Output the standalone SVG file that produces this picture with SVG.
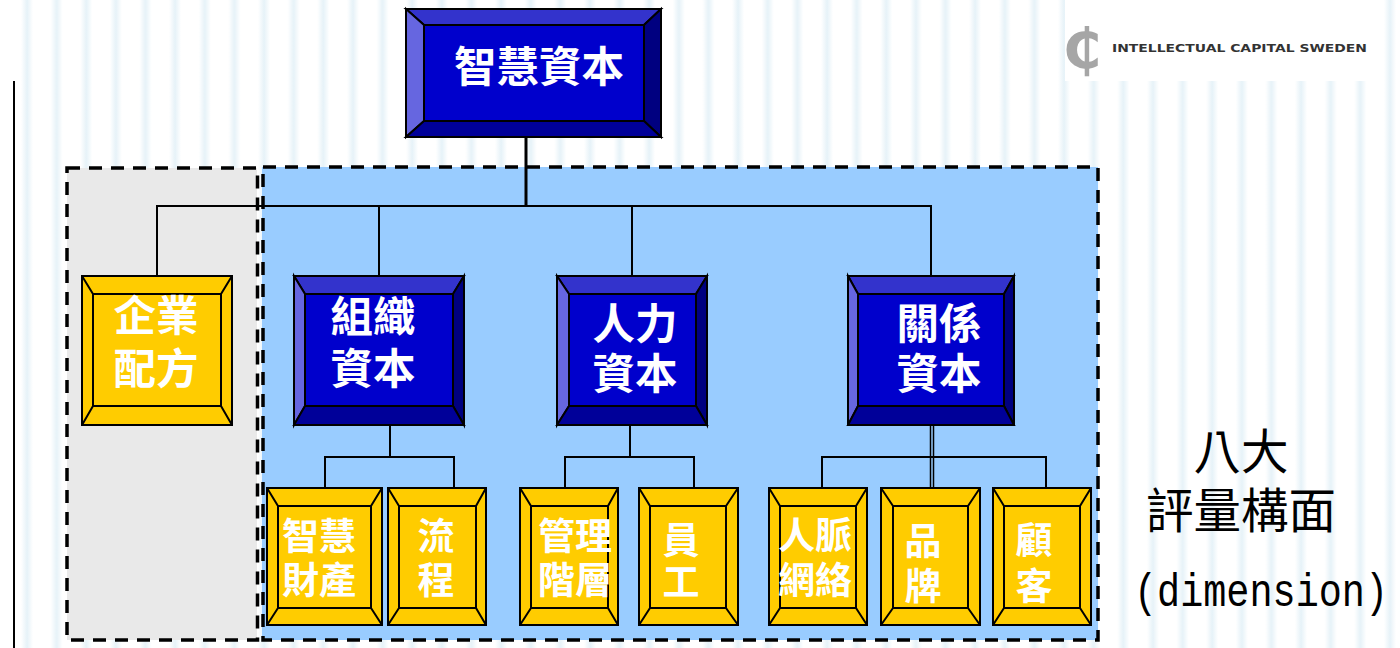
<svg xmlns="http://www.w3.org/2000/svg" width="1400" height="648" viewBox="0 0 1400 648">
<style>
.o{fill:none;stroke:#000;stroke-width:2}
.c{fill:none;stroke:#000;stroke-width:2}
.b0{fill:#0000CC}.bt{fill:#3333CC}.bl{fill:#6666E0}.br{fill:#000080}.bb{fill:#000099}
.y0{fill:#FFCC00}
.e{stroke:#000;stroke-width:2;stroke-linejoin:miter}
.t{font-family:"Noto Sans CJK TC","Noto Sans CJK SC",sans-serif;font-weight:700;fill:#fff;text-anchor:middle}
.l{font-size:42.500px}.m{font-size:37px}
.k{font-family:"Noto Sans CJK TC","Noto Sans CJK SC",sans-serif;font-size:47.500px;fill:#000;text-anchor:middle}
.d{fill:none;stroke:#000;stroke-width:3.500;stroke-dasharray:13 9}
</style>
<defs>
<linearGradient id="sg" x1="0" x2="1" y1="0" y2="0">
<stop offset="0" stop-color="#fff"/><stop offset="0.5" stop-color="#E6F2F8"/><stop offset="1" stop-color="#fff"/>
</linearGradient>
<pattern id="st" x="21" y="0" width="29.630" height="648" patternUnits="userSpaceOnUse">
<rect x="0" y="0" width="12" height="648" fill="url(#sg)"/>
</pattern>
</defs>
<g id="background">
<rect width="1400" height="648" fill="#fff"/>
<rect x="14" width="1386" height="648" fill="url(#st)"/>
<rect x="1065" y="0" width="302" height="81" fill="#fff"/>
<path d="M14 81V648" stroke="#000" stroke-width="2" fill="none"/>
</g>
<g id="logo">
<text x="1082" y="68" font-family="DejaVu Sans" font-weight="700" font-size="56" fill="#A6A6A6" text-anchor="middle">₵</text>
<text x="1112" y="52" font-family="DejaVu Sans" font-weight="700" font-size="10.500" fill="#333" textLength="255" lengthAdjust="spacingAndGlyphs">INTELLECTUAL CAPITAL SWEDEN</text>
</g>
<g id="regions">
<rect x="67" y="168" width="190" height="472" fill="#E9E9E9"/>
<rect x="262" y="167" width="836" height="473" fill="#99CCFF"/>
<rect class="d" x="67" y="168" width="190.500" height="472"/>
<rect class="d" x="263" y="167" width="835" height="473"/>
</g>
<g id="connectors">
<path class="c" style="stroke-width:3" d="M526 137V206"/>
<path class="c" d="M157 275V206H931V275M379 206V275M632 206V275"/>
<path class="c" d="M390 425V457M325 488V457H454V488"/>
<path class="c" d="M630 425V457M565 488V457H694V488"/>
<path class="c" style="stroke-width:1.500" d="M930.500 425V488M933.500 425V488"/>
<path class="c" d="M822 488V457H1046V488"/>
</g>
<g id="n-top">
<rect class="b0 e" x="406" y="9" width="255" height="128"/>
<polygon class="bt e" points="406,9 661,9 644,25 424,25"/>
<polygon class="bl e" points="406,9 424,25 424,121 406,137"/>
<polygon class="br e" points="661,9 644,25 644,121 661,137"/>
<polygon class="bb e" points="406,137 424,121 644,121 661,137"/>
<text class="t l" x="539" y="82">智慧資本</text>
</g>
<g id="n-recipe">
<rect class="y0 e" x="82" y="276" width="150" height="149"/>
<path class="o" d="M93 294H221V406H93ZM82 276L93 294M232 276L221 294M82 425L93 406M232 425L221 406"/>
<text class="t l" x="156" y="331">企業</text>
<text class="t l" x="156" y="384">配方</text>
</g>
<g id="n-org">
<rect class="b0 e" x="294" y="276" width="170" height="149"/>
<polygon class="bt e" points="294,276 464,276 453,294 305,294"/>
<polygon class="bl e" points="294,276 305,294 305,406 294,425"/>
<polygon class="br e" points="464,276 453,294 453,406 464,425"/>
<polygon class="bb e" points="294,425 305,406 453,406 464,425"/>
<text class="t l" x="373" y="332">組織</text>
<text class="t l" x="373" y="384">資本</text>
</g>
<g id="n-human">
<rect class="b0 e" x="557" y="276" width="150" height="149"/>
<polygon class="bt e" points="557,276 707,276 696,294 569,294"/>
<polygon class="bl e" points="557,276 569,294 569,406 557,425"/>
<polygon class="br e" points="707,276 696,294 696,406 707,425"/>
<polygon class="bb e" points="557,425 569,406 696,406 707,425"/>
<text class="t l" x="635" y="339">人力</text>
<text class="t l" x="635" y="389">資本</text>
</g>
<g id="n-relation">
<rect class="b0 e" x="848" y="276" width="166" height="149"/>
<polygon class="bt e" points="848,276 1014,276 1004,294 858,294"/>
<polygon class="bl e" points="848,276 858,294 858,406 848,425"/>
<polygon class="br e" points="1014,276 1004,294 1004,406 1014,425"/>
<polygon class="bb e" points="848,425 858,406 1004,406 1014,425"/>
<text class="t l" x="939" y="339">關係</text>
<text class="t l" x="939" y="389">資本</text>
</g>
<g id="n-ip">
<rect class="y0 e" x="267" y="488" width="115" height="137"/>
<path class="o" d="M278 506H371V608H278ZM267 488L278 506M382 488L371 506M267 625L278 608M382 625L371 608"/>
<text class="t m" x="319" y="550">智慧</text>
<text class="t m" x="319" y="594">財產</text>
</g>
<g id="n-process">
<rect class="y0 e" x="388" y="488" width="98" height="137"/>
<path class="o" d="M399 506H476V608H399ZM388 488L399 506M486 488L476 506M388 625L399 608M486 625L476 608"/>
<text class="t m" x="436" y="550">流</text>
<text class="t m" x="436" y="594">程</text>
</g>
<g id="n-mgmt">
<rect class="y0 e" x="520" y="488" width="98" height="137"/>
<path class="o" d="M531 506H608V608H531ZM520 488L531 506M618 488L608 506M520 625L531 608M618 625L608 608"/>
<text class="t m" x="575" y="550">管理</text>
<text class="t m" x="575" y="594">階層</text>
</g>
<g id="n-staff">
<rect class="y0 e" x="639" y="488" width="99" height="137"/>
<path class="o" d="M650 506H726V608H650ZM639 488L650 506M738 488L726 506M639 625L650 608M738 625L726 608"/>
<text class="t m" x="681" y="554">員</text>
<text class="t m" x="681" y="596">工</text>
</g>
<g id="n-network">
<rect class="y0 e" x="769" y="488" width="98" height="137"/>
<path class="o" d="M780 506H856V608H780ZM769 488L780 506M867 488L856 506M769 625L780 608M867 625L856 608"/>
<text class="t m" x="815" y="549">人脈</text>
<text class="t m" x="815" y="594">網絡</text>
</g>
<g id="n-brand">
<rect class="y0 e" x="881" y="488" width="99" height="137"/>
<path class="o" d="M893 506H968V608H893ZM881 488L893 506M980 488L968 506M881 625L893 608M980 625L968 608"/>
<text class="t m" x="923" y="555">品</text>
<text class="t m" x="923" y="600">牌</text>
</g>
<g id="n-customer">
<rect class="y0 e" x="993" y="488" width="98" height="137"/>
<path class="o" d="M1004 506H1080V608H1004ZM993 488L1004 506M1091 488L1080 506M993 625L1004 608M1091 625L1080 608"/>
<text class="t m" x="1034" y="554">顧</text>
<text class="t m" x="1034" y="600">客</text>
</g>
<g id="caption">
<text class="k" x="1241" y="469">八大</text>
<text class="k" x="1241" y="528">評量構面</text>
<text x="1134" y="606" font-family="Liberation Mono" font-size="46" fill="#000" textLength="254" lengthAdjust="spacingAndGlyphs">(dimension)</text>
</g>
</svg>
